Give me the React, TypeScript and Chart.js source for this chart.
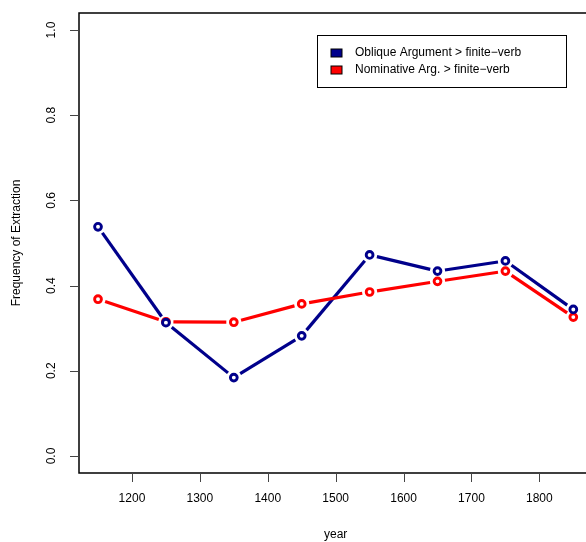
import React, { useEffect, useRef } from "react";
import { Chart, registerables } from "chart.js";

Chart.register(...registerables);

const years = [1150, 1250, 1350, 1450, 1550, 1650, 1750, 1850];
const obliqueValues = [0.538, 0.313, 0.184, 0.282, 0.472, 0.434, 0.458, 0.344];
const nominativeValues = [0.368, 0.315, 0.314, 0.357, 0.385, 0.41, 0.434, 0.326];
const seriesLabels = ["Oblique Argument > finite\u2212verb", "Nominative Arg. > finite\u2212verb"];
const seriesColors = ["#00008B", "#FF0000"];
const xTickValues = [1200, 1300, 1400, 1500, 1600, 1700, 1800];
const xTickLabels = ["1200", "1300", "1400", "1500", "1600", "1700", "1800"];
const yTickValues = [0, 0.2, 0.4, 0.6, 0.8, 1.0];
const yTickLabels = ["0.0", "0.2", "0.4", "0.6", "0.8", "1.0"];
const xTitle = "year";
const yTitle = "Frequency of Extraction";

const FONT = "12px 'Liberation Sans', Arial, Helvetica, sans-serif";

const rPlotPlugin = {
  id: "rPlot",
  beforeDatasetsDraw(chart: any) {
    const ctx = chart.ctx;
    const gap = 7.5;
    chart.data.datasets.forEach((ds: any, di: number) => {
      const meta = chart.getDatasetMeta(di);
      const pts = meta.data;
      ctx.save();
      ctx.strokeStyle = ds.borderColor;
      ctx.lineWidth = 3.2;
      ctx.lineCap = "butt";
      for (let i = 0; i < pts.length - 1; i++) {
        const a = pts[i];
        const b = pts[i + 1];
        const dx = b.x - a.x;
        const dy = b.y - a.y;
        const len = Math.sqrt(dx * dx + dy * dy);
        if (len <= 2 * gap) continue;
        const ux = dx / len;
        const uy = dy / len;
        ctx.beginPath();
        ctx.moveTo(a.x + ux * gap, a.y + uy * gap);
        ctx.lineTo(b.x - ux * gap, b.y - uy * gap);
        ctx.stroke();
      }
      ctx.restore();
    });
  },
  afterDraw(chart: any) {
    const ctx = chart.ctx;
    const area = chart.chartArea;
    const xs = chart.scales.x;
    const ys = chart.scales.y;
    ctx.save();
    // box (right side is off-canvas)
    ctx.strokeStyle = "#000";
    ctx.lineWidth = 1.5;
    ctx.beginPath();
    ctx.moveTo(area.right + 10, area.top);
    ctx.lineTo(area.left, area.top);
    ctx.lineTo(area.left, area.bottom);
    ctx.lineTo(area.right + 10, area.bottom);
    ctx.stroke();

    // ticks
    ctx.strokeStyle = "#444";
    ctx.lineWidth = 1;
    ctx.beginPath();
    xTickValues.forEach((v) => {
      const px = Math.round(xs.getPixelForValue(v)) + 0.5;
      ctx.moveTo(px, area.bottom);
      ctx.lineTo(px, area.bottom + 9);
    });
    yTickValues.forEach((v) => {
      const py = Math.round(ys.getPixelForValue(v)) + 0.5;
      ctx.moveTo(area.left, py);
      ctx.lineTo(area.left - 9, py);
    });
    ctx.stroke();

    // tick labels
    ctx.fillStyle = "#000";
    ctx.font = FONT;
    ctx.textAlign = "center";
    ctx.textBaseline = "middle";
    xTickValues.forEach((v, i) => {
      ctx.fillText(xTickLabels[i], xs.getPixelForValue(v), 499);
    });
    yTickValues.forEach((v, i) => {
      ctx.save();
      ctx.translate(52, ys.getPixelForValue(v));
      ctx.rotate(-Math.PI / 2);
      ctx.fillText(yTickLabels[i], 0, 0);
      ctx.restore();
    });

    // axis titles
    const plotCenterX = (area.left + xs.getPixelForValue(1878)) / 2;
    ctx.fillText(xTitle, plotCenterX, 535);
    ctx.save();
    ctx.translate(17, (area.top + area.bottom) / 2);
    ctx.rotate(-Math.PI / 2);
    ctx.fillText(yTitle, 0, 0);
    ctx.restore();

    // legend
    const lx = 317.5, ly = 35.5, lw = 249, lh = 52;
    ctx.fillStyle = "#fff";
    ctx.fillRect(lx, ly, lw, lh);
    ctx.strokeStyle = "#000";
    ctx.lineWidth = 1;
    ctx.strokeRect(lx, ly, lw, lh);
    ctx.textAlign = "left";
    seriesLabels.forEach((lab, i) => {
      const cy = 53 + i * 17;
      ctx.fillStyle = seriesColors[i];
      ctx.fillRect(331, cy - 4, 11, 8);
      ctx.strokeStyle = "#000";
      ctx.lineWidth = 1;
      ctx.strokeRect(331, cy - 4, 11, 8);
      ctx.fillStyle = "#000";
      ctx.fillText(lab, 355, cy);
    });
    ctx.restore();
  },
};

export default function App() {
  const ref = useRef<HTMLCanvasElement | null>(null);
  useEffect(() => {
    if (!ref.current) return;
    const mk = (vals: number[]) => years.map((x, i) => ({ x, y: vals[i] }));
    const chart = new Chart(ref.current, {
      type: "line",
      data: {
        datasets: [
          {
            label: seriesLabels[0],
            data: mk(obliqueValues),
            borderColor: seriesColors[0],
            backgroundColor: "#fff",
            showLine: false,
            pointRadius: 3.4,
            pointBorderWidth: 2.9,
            pointBackgroundColor: "#fff",
            pointBorderColor: seriesColors[0],
          },
          {
            label: seriesLabels[1],
            data: mk(nominativeValues),
            borderColor: seriesColors[1],
            backgroundColor: "#fff",
            showLine: false,
            pointRadius: 3.4,
            pointBorderWidth: 2.9,
            pointBackgroundColor: "#fff",
            pointBorderColor: seriesColors[1],
          },
        ],
      },
      options: {
        responsive: false,
        animation: false,
        events: [],
        layout: { autoPadding: false, padding: { left: 79, top: 13, right: 0, bottom: 69 } },
        plugins: { legend: { display: false }, tooltip: { enabled: false } },
        scales: {
          x: { type: "linear", min: 1122, max: 1868.7, display: false },
          y: { type: "linear", min: -0.04, max: 1.04, display: false },
        },
      },
      plugins: [rPlotPlugin],
    });
    return () => chart.destroy();
  }, []);
  return (
    <div style={{ position: "fixed", left: 0, top: 0, width: 586, height: 542, background: "#fff" }}>
      <canvas ref={ref} width={586} height={542} style={{ display: "block" }} />
    </div>
  );
}
